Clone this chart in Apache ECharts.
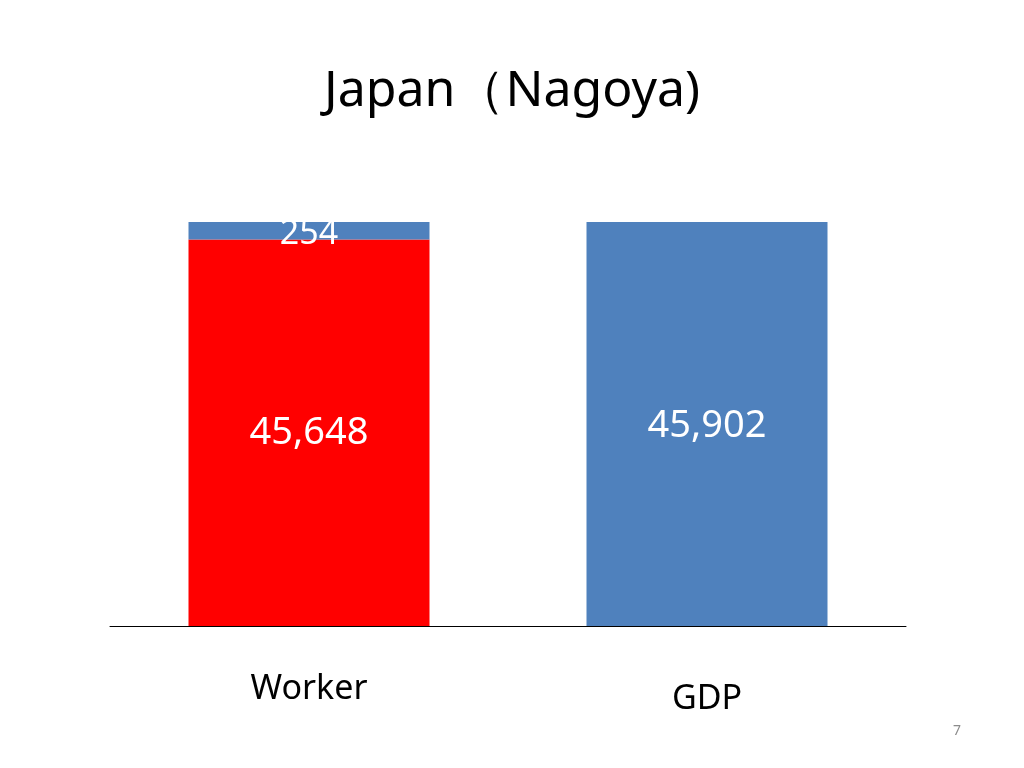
<!DOCTYPE html>
<html><head><meta charset="utf-8">
<script src="https://cdn.jsdelivr.net/npm/echarts@6/dist/echarts.min.js"></script>
<style>html,body{margin:0;padding:0;background:#fff}#c{width:1024px;height:768px}</style>
</head><body><div id="c"></div>
<script>
const categories = ['Worker', 'GDP'];
const redValues = [45648, null];
const blueValues = [254, 45902];
const chart = echarts.init(document.getElementById('c'));
chart.setOption({
  animation: false,
  title: {text: 'Japan（Nagoya)', left: 'center', top: 62, textStyle: {fontFamily: 'Noto Sans', fontWeight: 'normal', fontSize: 50, color: '#000'}},
  graphic: [{type: 'text', left: 953, top: 724, style: {text: '7', fontSize: 14, fill: '#8c8c8c', fontFamily: 'Noto Sans'}}],
  grid: {left: 110, right: 118, top: 222, bottom: 142},
  xAxis: {type: 'category', data: categories, axisTick: {show: false},
    axisLine: {lineStyle: {color: '#000', width: 1}},
    axisLabel: {margin: 46, fontSize: 34, color: '#000', fontFamily: 'Noto Sans',
      formatter: v => v === 'GDP' ? '{g|' + v + '}' : v, rich: {g: {fontSize: 34, padding: [10, 0, 0, 0], fontFamily: 'Noto Sans'}}}},
  yAxis: {type: 'value', min: 40000, max: 45902, show: false, splitLine: {show: false}},
  series: [
    {type: 'bar', stack: 's', barWidth: 241, data: redValues, itemStyle: {color: '#ff0000'},
      label: {show: true, position: 'inside', color: '#fff', fontSize: 38, fontFamily: 'Noto Sans', formatter: p => p.value.toLocaleString('en-US')}},
    {type: 'bar', stack: 's', barWidth: 241, itemStyle: {color: '#4f81bd'},
      data: [
        {value: blueValues[0], label: {show: true, position: 'insideTop', offset: [0, -10], color: '#fff', fontSize: 34, fontFamily: 'Noto Sans', formatter: p => p.value.toLocaleString('en-US')}},
        {value: blueValues[1], label: {show: true, position: 'inside', offset: [0, 2], color: '#fff', fontSize: 38, fontFamily: 'Noto Sans', formatter: p => p.value.toLocaleString('en-US')}}
      ]}
  ]
});
</script></body></html>
